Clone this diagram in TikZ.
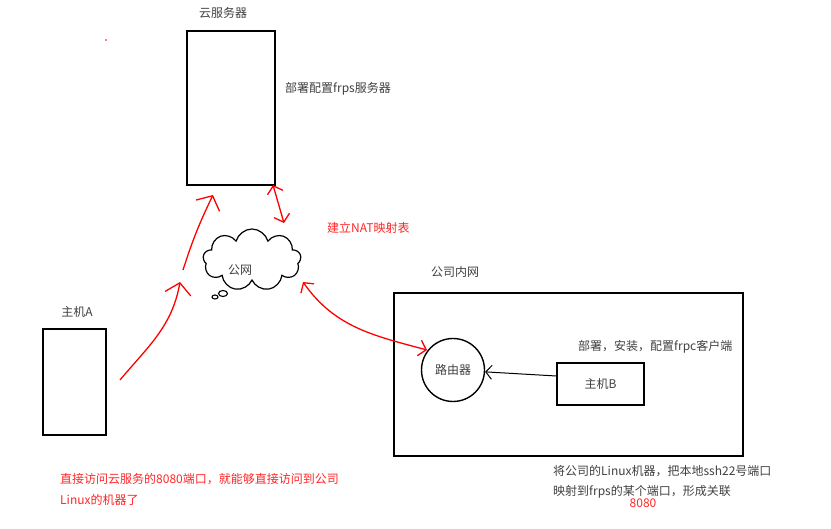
\documentclass[tikz,border=0pt]{standalone}
\usepackage{fontspec}
\setmainfont{Noto Sans CJK SC}
\usetikzlibrary{shapes.symbols,arrows.meta}

\begin{document}
\begin{tikzpicture}[x=1pt, y=1pt,
        box/.style={draw, line width=1.6pt, inner sep=0pt, font=\fontsize{12}{14}\selectfont, text=black!75},
        router/.style={circle, draw, line width=1.4pt, minimum size=63pt, inner sep=0pt, font=\fontsize{12}{14}\selectfont, text=black!75},
        net/.style={cloud, cloud puffs=9, cloud ignores aspect, draw, line width=1.2pt, minimum width=98pt, minimum height=62pt, font=\fontsize{12}{14}\selectfont, text=black!75},
        lbl/.style={font=\fontsize{12}{14}\selectfont, text=black!75, inner sep=0pt},
        note/.style={lbl, text=red!85, anchor=west},
        link/.style={draw=red, line width=1.3pt, {Straight Barb[length=7pt,width=16pt]}-{Straight Barb[length=7pt,width=16pt]}},
        push/.style={draw=red, line width=1.3pt, -{Straight Barb[length=11pt,width=26pt]}},
        arrow/.style={draw, line width=1pt, -{Straight Barb[length=6pt,width=14pt]}}
    ]
    \useasboundingbox (0,0) rectangle (831,529);

    % Machines
    \node[box, minimum width=88pt, minimum height=154pt] (server) at (231,421) {};
    \node[lbl] (serverlbl) at (223,516) {云服务器};
    \node[lbl, anchor=west] (frps) at (285,440) {部署配置frps服务器};
    \node[box, minimum width=63pt, minimum height=106pt] (hostA) at (74.5,147) {};
    \node[lbl] (hostAlbl) at (77,217) {主机A};
    \node[box, minimum width=349pt, minimum height=163pt] (lan) at (568.5,154.5) {};
    \node[lbl] (lanlbl) at (455,257) {公司内网};
    \node[router] (router) at (453,159) {路由器};
    \node[box, minimum width=87pt, minimum height=42pt] (hostB) at (600.5,145) {主机B};
    \node[lbl, anchor=west] (frpc) at (578,182) {部署，安装，配置frpc客户端};

    % Internet
    \node[net] (inet) at (252,269) {};
    \node[lbl] (inetlbl) at (240,259) {公网};
    \draw[line width=1.1pt] (215,232) ellipse (3pt and 2pt);
    \draw[line width=1.1pt] (223,235.5) ellipse (4.5pt and 3pt);
    \fill[red] (106,489) circle (0.8pt);

    % Notes
    \node[note] (nat) at (327,301) {建立NAT映射表};
    \node[note] (visit1) at (60,50) {直接访问云服务的8080端口，就能够直接访问到公司};
    \node[note] (visit2) at (60,29) {Linux的机器了};
    \node[lbl, anchor=west] (map1) at (553,58) {将公司的Linux机器，把本地ssh22号端口};
    \node[lbl, anchor=west] (map2) at (553,37) {映射到frps的某个端口，形成关联};
    \node[lbl, text=red!85] (port) at (643,26) {8080};

    % Connections
    \coordinate (a1) at (120,149);
    \coordinate (a2) at (180,247);
    \coordinate (a3) at (183,259);
    \coordinate (a4) at (213,334);
    \coordinate (s1) at (273,344);
    \coordinate (c1) at (284,306);
    \coordinate (c2) at (303,247);
    \coordinate (r1) at (427,179);
    \draw[push] (a1) to[out=50, in=-100] (a2);
    \draw[push] (a3) to[bend left=4] (a4);
    \draw[link] (s1) -- (c1);
    \draw[link] (c2) to[out=-55, in=165] (r1);
    \draw[arrow] ([yshift=8pt]hostB.west) -- (router);

\end{tikzpicture}
\end{document}
